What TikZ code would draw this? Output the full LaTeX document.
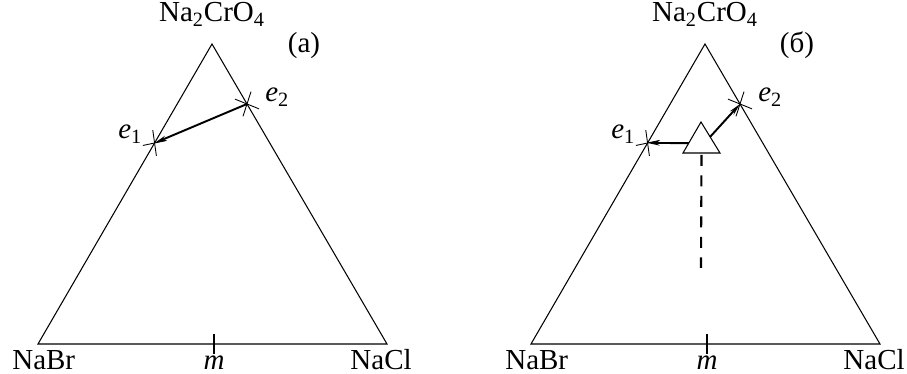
\documentclass[tikz,border=0pt]{standalone}
\usepackage{fontspec}
\setmainfont{Liberation Serif}
\usetikzlibrary{arrows.meta,calc}

\begin{document}
\begin{tikzpicture}[
  x=0.02cm, y=0.02cm,
  side/.style={line width=0.6pt},
  cross/.style={line width=0.5pt},
  flow/.style={-{Stealth[length=2.4mm,width=1mm]},line width=1.1pt},
  lbl/.style={inner sep=0pt,font=\fontsize{16.5}{19}\selectfont},
  rise/.style={dash pattern=on 2.2mm off 1.9mm,line width=1.2pt}
]
\useasboundingbox (0,0) rectangle (907,374);
% two panels, same frame
\foreach \p/\dx/\tag in {a/0/(а),b/493/(б)}{
  \coordinate (A\p) at (38+\dx,30);
  \coordinate (B\p) at (387+\dx,30);
  \coordinate (C\p) at (212+\dx,330);
  \coordinate (M\p) at (214+\dx,30);
  \coordinate (e1\p) at ($(A\p)!0.67!(C\p)$);
  \coordinate (e2\p) at ($(B\p)!0.8!(C\p)$);
  \draw[side] (A\p) -- (B\p) -- (C\p) -- cycle;
  \draw[side] ($(M\p)+(0,-10)$) -- ($(M\p)+(0,10)$);
  % crossing marks
  \draw[cross] ($(e1\p)+(12:12)$) -- ($(e1\p)+(192:12)$);
  \draw[cross] ($(e1\p)+(98:13)$) -- ($(e1\p)+(278:13)$);
  \draw[cross] ($(e2\p)+(-22:13)$) -- ($(e2\p)+(158:13)$);
  \draw[cross] ($(e2\p)+(72:13)$) -- ($(e2\p)+(252:13)$);
  % labels
  \node[lbl,anchor=base] (top\p) at ($(C\p)+(0,22)$) {Na\textsubscript{2}CrO\textsubscript{4}};
  \node[lbl,anchor=base west] (left\p) at ($(A\p)+(-26,-26)$) {NaBr};
  \node[lbl,anchor=base] (mid\p) at ($(M\p)+(0,-26)$) {\textit{m}};
  \node[lbl,anchor=base east] (right\p) at ($(B\p)+(25,-26)$) {NaCl};
  \node[lbl,anchor=base] (tag\p) at ($(C\p)+(92,-9)$) {\tag};
  \node[lbl,anchor=base east] (l1\p) at ($(e1\p)+(-12,4)$) {\textit{e}\textsubscript{1}};
  \node[lbl,anchor=base west] (l2\p) at ($(e2\p)+(18,2)$) {\textit{e}\textsubscript{2}};
}
% panel (a)
\draw[flow] (e2a) -- (e1a);
% panel (b)
\coordinate (tl) at (683,221);
\coordinate (tr) at (720,221);
\coordinate (tt) at (701,252);
\coordinate (db) at (701,106);
\draw[side] (tl) -- (tt) -- (tr) -- cycle;
\draw[flow] ($(tl)!0.32!(tt)$) -- (e1b);
\draw[flow] ($(tr)!0.52!(tt)$) -- (e2b);
\draw[rise] ($(tl)!0.5!(tr)+(0,-2)$) -- (db);
\end{tikzpicture}
\end{document}
